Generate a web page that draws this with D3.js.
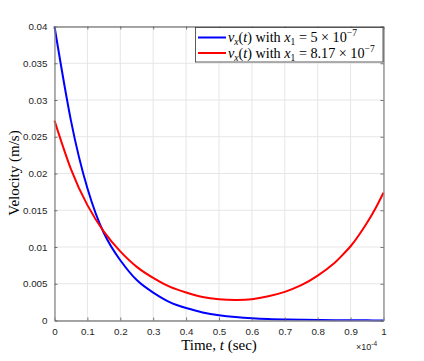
<!DOCTYPE html>
<html><head><meta charset="utf-8">
<script src="https://cdn.jsdelivr.net/npm/d3@7"></script>
<style>body{margin:0;background:#fff}svg{display:block}</style>
</head><body>
<svg id="c" width="424" height="361"></svg>
<script>
const times = [0,0.05,0.1,0.15,0.2,0.25,0.3,0.35,0.4,0.45,0.5,0.55,0.6,0.65,0.7,0.75,0.8,0.85,0.875,0.9,0.925,0.95,0.975,1];
const blueVals = [0.04,0.0272,0.018,0.0119,0.0082,0.0055,0.0038,0.0025,0.0017,0.0011,0.0007,0.00046,0.0003,0.0002,0.00014,0.0001,0.00007,0.00005,0.00004,0.00003,0.000025,0.00002,0.000015,0.00001];
const redVals = [0.0272,0.0206,0.0157,0.0121,0.0094,0.0073,0.0058,0.0046,0.0038,0.0032,0.0029,0.0028,0.0029,0.0033,0.0039,0.0048,0.0061,0.0078,0.0089,0.0101,0.0116,0.0133,0.0152,0.0174];
const xTicks = [0,0.1,0.2,0.3,0.4,0.5,0.6,0.7,0.8,0.9,1];
const xTickLabels = ["0","0.1","0.2","0.3","0.4","0.5","0.6","0.7","0.8","0.9","1"];
const yTicks = [0,0.005,0.01,0.015,0.02,0.025,0.03,0.035,0.04];
const yTickLabels = ["0","0.005","0.01","0.015","0.02","0.025","0.03","0.035","0.04"];
const seriesNames = [
  {coef:"5", color:"#0000ff"},
  {coef:"8.17", color:"#ff0000"}
];

const svg = d3.select("#c");
const L=54.5, R=383.5, T=26.5, B=320.5;
const x = d3.scaleLinear().domain([0,1]).range([L,R]);
const y = d3.scaleLinear().domain([0,0.04]).range([B,T]);
const tickFont = "'Liberation Sans', Arial, Helvetica, sans-serif";
const serif = "'Liberation Serif', 'Times New Roman', serif";
const axCol = "#262626";

const g = svg.append("g");
g.selectAll(".gx").data(xTicks).join("line")
  .attr("x1",d=>x(d)).attr("x2",d=>x(d)).attr("y1",T).attr("y2",B)
  .attr("stroke","#e6e6e6").attr("stroke-width",1);
g.selectAll(".gy").data(yTicks).join("line")
  .attr("y1",d=>y(d)).attr("y2",d=>y(d)).attr("x1",L).attr("x2",R)
  .attr("stroke","#e6e6e6").attr("stroke-width",1);

const axB = d3.axisBottom(x).tickValues(xTicks).tickFormat((d,i)=>xTickLabels[i]).tickSizeInner(-3).tickSizeOuter(0).tickPadding(8);
const axL = d3.axisLeft(y).tickValues(yTicks).tickFormat((d,i)=>yTickLabels[i]).tickSizeInner(-3).tickSizeOuter(0).tickPadding(7);
const axT = d3.axisTop(x).tickValues(xTicks).tickFormat("").tickSizeInner(-3).tickSizeOuter(0);
const axR = d3.axisRight(y).tickValues(yTicks).tickFormat("").tickSizeInner(-3).tickSizeOuter(0);

function style(sel){
  sel.selectAll("path").attr("stroke","#8a8a8a").attr("stroke-width",1.3);
  sel.selectAll("line").attr("stroke","#555").attr("stroke-width",0.8);
  sel.selectAll("text").attr("fill",axCol).attr("font-family",tickFont).attr("font-size",9.8);
}

const line = d3.line().curve(d3.curveNatural);
const data = [blueVals, redVals];
svg.append("g").selectAll("path").data(data).join("path")
  .attr("d",vals=>line(vals.map((v,i)=>[x(times[i]),y(v)])))
  .attr("fill","none").attr("stroke",(d,i)=>seriesNames[i].color).attr("stroke-width",2);

svg.append("g").attr("transform",`translate(0,${B})`).call(axB).call(style);
svg.append("g").attr("transform",`translate(${L},0)`).call(axL).call(style);
svg.append("g").attr("transform",`translate(0,${T})`).call(axT).call(style);
svg.append("g").attr("transform",`translate(${R},0)`).call(axR).call(style);

const ex = svg.append("text").attr("x",356).attr("y",350).attr("fill",axCol)
  .attr("font-family",tickFont).attr("font-size",9);
ex.append("tspan").text("×10");
ex.append("tspan").attr("dy",-4).attr("font-size",6.5).text("-4");

const xl = svg.append("text").attr("x",219).attr("y",350).attr("text-anchor","middle")
  .attr("font-family",serif).attr("font-size",15).attr("fill","#000");
xl.append("tspan").text("Time, ");
xl.append("tspan").attr("font-style","italic").text("t");
xl.append("tspan").text(" (sec)");

svg.append("text").attr("transform","translate(19,173) rotate(-90)").attr("text-anchor","middle")
  .attr("font-family",serif).attr("font-size",15).attr("fill","#000").text("Velocity (m/s)");

const lg = svg.append("g");
lg.append("rect").attr("x",195.5).attr("y",27.5).attr("width",187.5).attr("height",34.5)
  .attr("fill","#fff").attr("stroke","#333").attr("stroke-width",0.8);
seriesNames.forEach((s,i)=>{
  const yy = 37.5 + i*15.5;
  lg.append("line").attr("x1",198).attr("x2",226).attr("y1",yy).attr("y2",yy)
    .attr("stroke",s.color).attr("stroke-width",2);
  const t = lg.append("text").attr("x",228).attr("y",yy+4.5)
    .attr("font-family",serif).attr("font-size",14.2).attr("fill","#000");
  t.append("tspan").attr("font-style","italic").text("v");
  t.append("tspan").attr("font-style","italic").attr("font-size",9.5).attr("dy",3).text("x");
  t.append("tspan").attr("dy",-3).text("(");
  t.append("tspan").attr("font-style","italic").text("t");
  t.append("tspan").text(") with ");
  t.append("tspan").attr("font-style","italic").text("x");
  t.append("tspan").attr("font-size",9.5).attr("dy",3).text("1");
  t.append("tspan").attr("dy",-3).text(" = " + s.coef + " × 10");
  t.append("tspan").attr("font-size",9.5).attr("dy",-6).text("−7");
});
</script>
</body></html>
